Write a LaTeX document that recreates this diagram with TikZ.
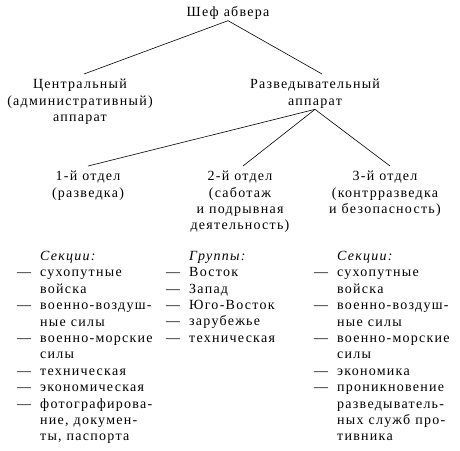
\documentclass[tikz,border=0pt]{standalone}
\usepackage{fontspec}
\setmainfont[LetterSpace=9]{Liberation Serif}
\usepackage{tikz}
\newcommand{\dd}{\makebox[23pt][l]{---}}
\newcommand{\ii}{\hspace*{23pt}}
\newcommand{\orgfont}{\fontsize{14}{16.4}\selectfont\spaceskip=5pt\relax}

\begin{document}
\begin{tikzpicture}[x=1pt, y=-1pt,
  lbl/.style={align=center, inner sep=1pt, font=\orgfont},
  lst/.style={align=left, anchor=north west, inner sep=0pt, font=\orgfont},
  link/.style={line width=0.6pt}]
  \useasboundingbox (0,0) rectangle (460,450);
  % top levels
  \node[lbl] (chief) at (228,13) {Шеф абвера};
  \node[lbl, anchor=north] (central) at (80,78) {Центральный\\(административный)\\аппарат};
  \node[lbl, anchor=north] (recon) at (315,78) {Разведывательный\\аппарат};
  % departments
  \node[lbl, anchor=north] (dep1) at (88,170) {1-й отдел\\(разведка)};
  \node[lbl, anchor=north] (dep2) at (240,170) {2-й отдел\\(саботаж\\и подрывная\\деятельность)};
  \node[lbl, anchor=north] (dep3) at (385,170) {3-й отдел\\(контрразведка\\и безопасность)};
  % connectors
  \draw[link] (chief.south) -- ([xshift=4pt,yshift=4pt]central.north);
  \draw[link] (chief.south) -- ([xshift=7pt,yshift=4pt]recon.north);
  \draw[link] (recon.south) -- ([yshift=4pt]dep1.north);
  \draw[link] (recon.south) -- ([xshift=3pt,yshift=4pt]dep2.north);
  \draw[link] (recon.south) -- ([xshift=5pt,yshift=4pt]dep3.north);
  % lists
  \node[lst] (list1) at (17,251) {\ii\textit{Секции:}\\
    \dd сухопутные\\ \ii войска\\
    \dd военно-воздуш-\\ \ii ные силы\\
    \dd военно-морские\\ \ii силы\\
    \dd техническая\\
    \dd экономическая\\
    \dd фотографирова-\\ \ii ние, докумен-\\ \ii ты, паспорта};
  \node[lst] (list2) at (166,251) {\ii\textit{Группы:}\\
    \dd Восток\\
    \dd Запад\\
    \dd Юго-Восток\\
    \dd зарубежье\\
    \dd техническая};
  \node[lst] (list3) at (314,251) {\ii\textit{Секции:}\\
    \dd сухопутные\\ \ii войска\\
    \dd военно-воздуш-\\ \ii ные силы\\
    \dd военно-морские\\ \ii силы\\
    \dd экономика\\
    \dd проникновение\\ \ii разведыватель-\\ \ii ных служб про-\\ \ii тивника};
\end{tikzpicture}
\end{document}
